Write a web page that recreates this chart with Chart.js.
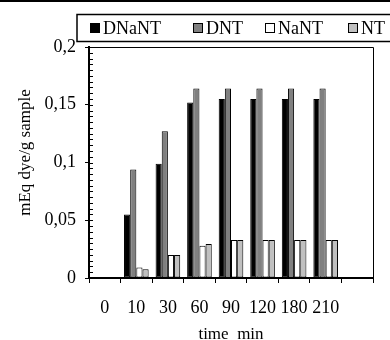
<!DOCTYPE html>
<html>
<head>
<meta charset="utf-8">
<script src="https://cdn.jsdelivr.net/npm/chart.js@4.4.1/dist/chart.umd.min.js"></script>
<style>
html, body { margin: 0; padding: 0; background: #fff; }
#wrap { width: 390px; height: 340px; position: relative; }
</style>
</head>
<body>
<div id="wrap"><canvas id="dyeChart"></canvas></div>
<script>
// Dye uptake per sample over time
const times = ['0', '10', '30', '60', '90', '120', '180', '210', ''];
const dnant = [0, 0.055, 0.099, 0.152, 0.155, 0.155, 0.155, 0.155, null];
const dnt = [0, 0.094, 0.127, 0.164, 0.164, 0.164, 0.164, 0.164, null];
const nant = [0, 0.009, 0.020, 0.028, 0.033, 0.033, 0.033, 0.033, null];
const nt = [0, 0.0075, 0.020, 0.0295, 0.033, 0.033, 0.033, 0.033, null];
const seriesNames = ['DNaNT', 'DNT', 'NaNT', 'NT'];
const yMax = 0.2;
const yStep = 0.05;
const minorStep = 0.005;
const yTitle = 'mEq dye/g sample';

const FAMILY = "'Liberation Serif', 'Times New Roman', serif";
const FONT = { family: FAMILY, size: 18 };
const TITLE_FONT = { family: FAMILY, size: 17 };
const fills = ['#000000', '#808080', '#ffffff', '#c0c0c0'];

function fmt(v) {
    return String(+v.toFixed(3)).replace('.', ',');
}

// frame, minor ticks, y title and the boxed legend across the top
const decorations = {
    id: 'decorations',
    afterDraw(chart) {
        const { ctx, chartArea } = chart;
        const y = chart.scales.y;
        ctx.save();
        ctx.fillStyle = '#000';
        ctx.fillRect(0, 0, chart.width, 2);

        ctx.strokeStyle = '#000';
        ctx.lineWidth = 1;
        ctx.beginPath();
        ctx.moveTo(chartArea.left, chartArea.top + 0.5);
        ctx.lineTo(chartArea.right + 0.5, chartArea.top + 0.5);
        ctx.lineTo(chartArea.right + 0.5, chartArea.bottom);
        ctx.stroke();

        // minor ticks pointing into the plot
        ctx.beginPath();
        const n = Math.round(yMax / minorStep);
        for (let i = 0; i <= n; i++) {
            const py = Math.round(y.getPixelForValue(i * minorStep)) + 0.5;
            ctx.moveTo(chartArea.left, py);
            ctx.lineTo(chartArea.left + 4, py);
        }
        ctx.stroke();

        // y axis title, sitting a little above the middle
        ctx.save();
        ctx.translate(26, chartArea.top + (chartArea.bottom - chartArea.top) / 2 - 10);
        ctx.rotate(-Math.PI / 2);
        ctx.font = TITLE_FONT.size + 'px ' + FAMILY;
        ctx.textAlign = 'center';
        ctx.textBaseline = 'middle';
        ctx.fillStyle = '#000';
        ctx.fillText(yTitle, 0, 0);
        ctx.restore();

        // legend
        ctx.lineWidth = 1.5;
        ctx.strokeRect(77, 14.5, 330, 27);
        const itemX = [90, 193, 265, 348];
        ctx.font = FONT.size + 'px ' + FAMILY;
        ctx.textBaseline = 'middle';
        ctx.textAlign = 'left';
        ctx.lineWidth = 1;
        chart.data.datasets.forEach((ds, i) => {
            const x = itemX[i];
            ctx.fillStyle = ds.backgroundColor;
            ctx.fillRect(x, 23, 10, 10);
            ctx.strokeRect(x + 0.5, 23.5, 9, 9);
            ctx.fillStyle = '#000';
            ctx.fillText(ds.label, x + 13, 29);
        });
        ctx.restore();
    }
};

const series = [dnant, dnt, nant, nt];

new Chart(document.getElementById('dyeChart'), {
    type: 'bar',
    data: {
        labels: times,
        datasets: series.map((values, i) => ({
            label: seriesNames[i],
            data: values,
            backgroundColor: fills[i],
            borderColor: '#000',
            borderWidth: 1,
            borderSkipped: false,
            barPercentage: 1,
            categoryPercentage: 0.78
        }))
    },
    options: {
        responsive: true,
        maintainAspectRatio: false,
        animation: false,
        layout: { padding: { top: 47, right: 17, left: 0, bottom: 0 } },
        plugins: {
            legend: { display: false },
            tooltip: { enabled: false }
        },
        scales: {
            x: {
                afterFit: (s) => { s.height = 62; },
                grid: { display: true, drawOnChartArea: false, offset: true, color: '#000', tickLength: 5, lineWidth: 1 },
                border: { display: true, color: '#000', width: 2 },
                ticks: { color: '#000', font: FONT, padding: 14, maxRotation: 0, autoSkip: false },
                title: { display: true, text: 'time  min', color: '#000', font: TITLE_FONT, padding: { top: 0, bottom: -5 } }
            },
            y: {
                min: 0,
                max: yMax,
                afterFit: (s) => { s.width = 89; },
                grid: { display: true, drawOnChartArea: false, color: '#000', tickLength: 4, lineWidth: 1 },
                border: { display: true, color: '#000', width: 2 },
                ticks: { stepSize: yStep, color: '#000', font: FONT, padding: 9, callback: (v) => fmt(v) }
            }
        }
    },
    plugins: [decorations]
});
</script>
</body>
</html>
